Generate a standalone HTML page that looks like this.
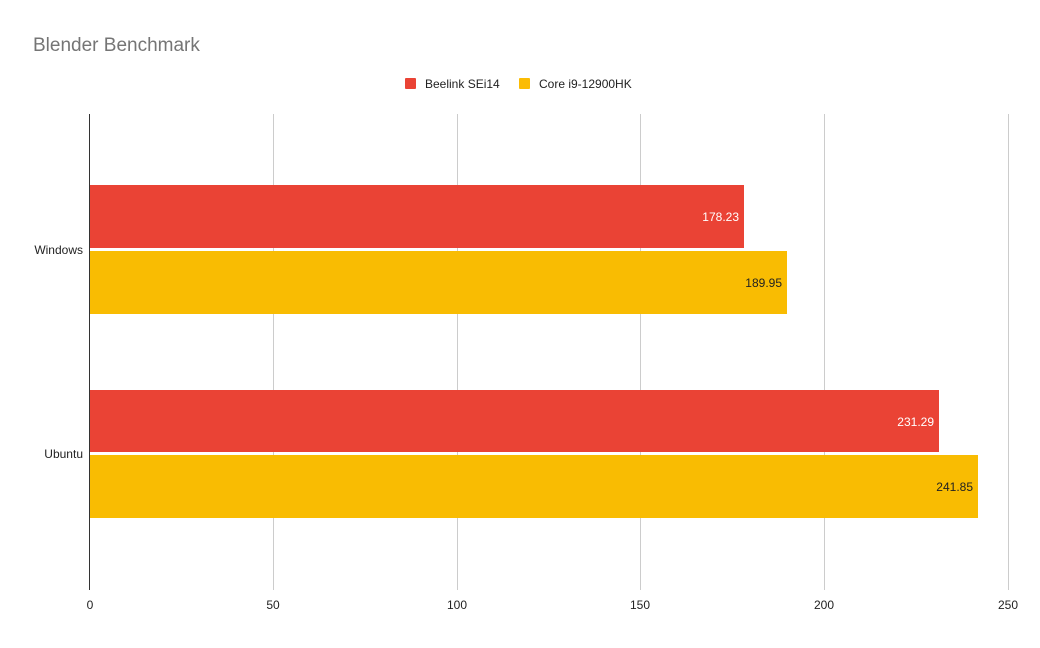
<!DOCTYPE html>
<html><head><style>body{margin:0;background:#fff}</style></head><body>
<svg width="1040" height="643" xmlns="http://www.w3.org/2000/svg" font-family="Liberation Sans, Arial, sans-serif">
<rect width="1040" height="643" fill="#fff"/>
<text x="33" y="51" font-size="19" fill="#757575">Blender Benchmark</text>
<rect x="405" y="78" width="11" height="11" fill="#ea4335" rx="1"/>
<text x="425" y="88" font-size="12" fill="#222">Beelink SEi14</text>
<rect x="519" y="78" width="11" height="11" fill="#fbbc04" rx="1"/>
<text x="539" y="88" font-size="12" fill="#222">Core i9-12900HK</text>
<g stroke="#ccc" stroke-width="1">
<line x1="273.5" y1="114" x2="273.5" y2="590"/>
<line x1="457.5" y1="114" x2="457.5" y2="590"/>
<line x1="640.5" y1="114" x2="640.5" y2="590"/>
<line x1="824.5" y1="114" x2="824.5" y2="590"/>
<line x1="1008.5" y1="114" x2="1008.5" y2="590"/>
</g>
<rect x="90" y="185" width="654" height="63" fill="#ea4335"/>
<rect x="90" y="251" width="697" height="63" fill="#f9bc02"/>
<rect x="90" y="390" width="849" height="62" fill="#ea4335"/>
<rect x="90" y="455" width="888" height="63" fill="#f9bc02"/>
<line x1="89.5" y1="114" x2="89.5" y2="590" stroke="#333"/>
<g font-size="12" text-anchor="end">
<text x="739" y="221" fill="#fff">178.23</text>
<text x="782" y="287" fill="#222">189.95</text>
<text x="934" y="426" fill="#fff">231.29</text>
<text x="973" y="491" fill="#222">241.85</text>
<text x="83" y="254" fill="#222">Windows</text>
<text x="83" y="458" fill="#222">Ubuntu</text>
</g>
<g font-size="12" text-anchor="middle" fill="#222">
<text x="90" y="609">0</text>
<text x="273" y="609">50</text>
<text x="457" y="609">100</text>
<text x="640" y="609">150</text>
<text x="824" y="609">200</text>
<text x="1008" y="609">250</text>
</g>
</svg>
</body></html>
